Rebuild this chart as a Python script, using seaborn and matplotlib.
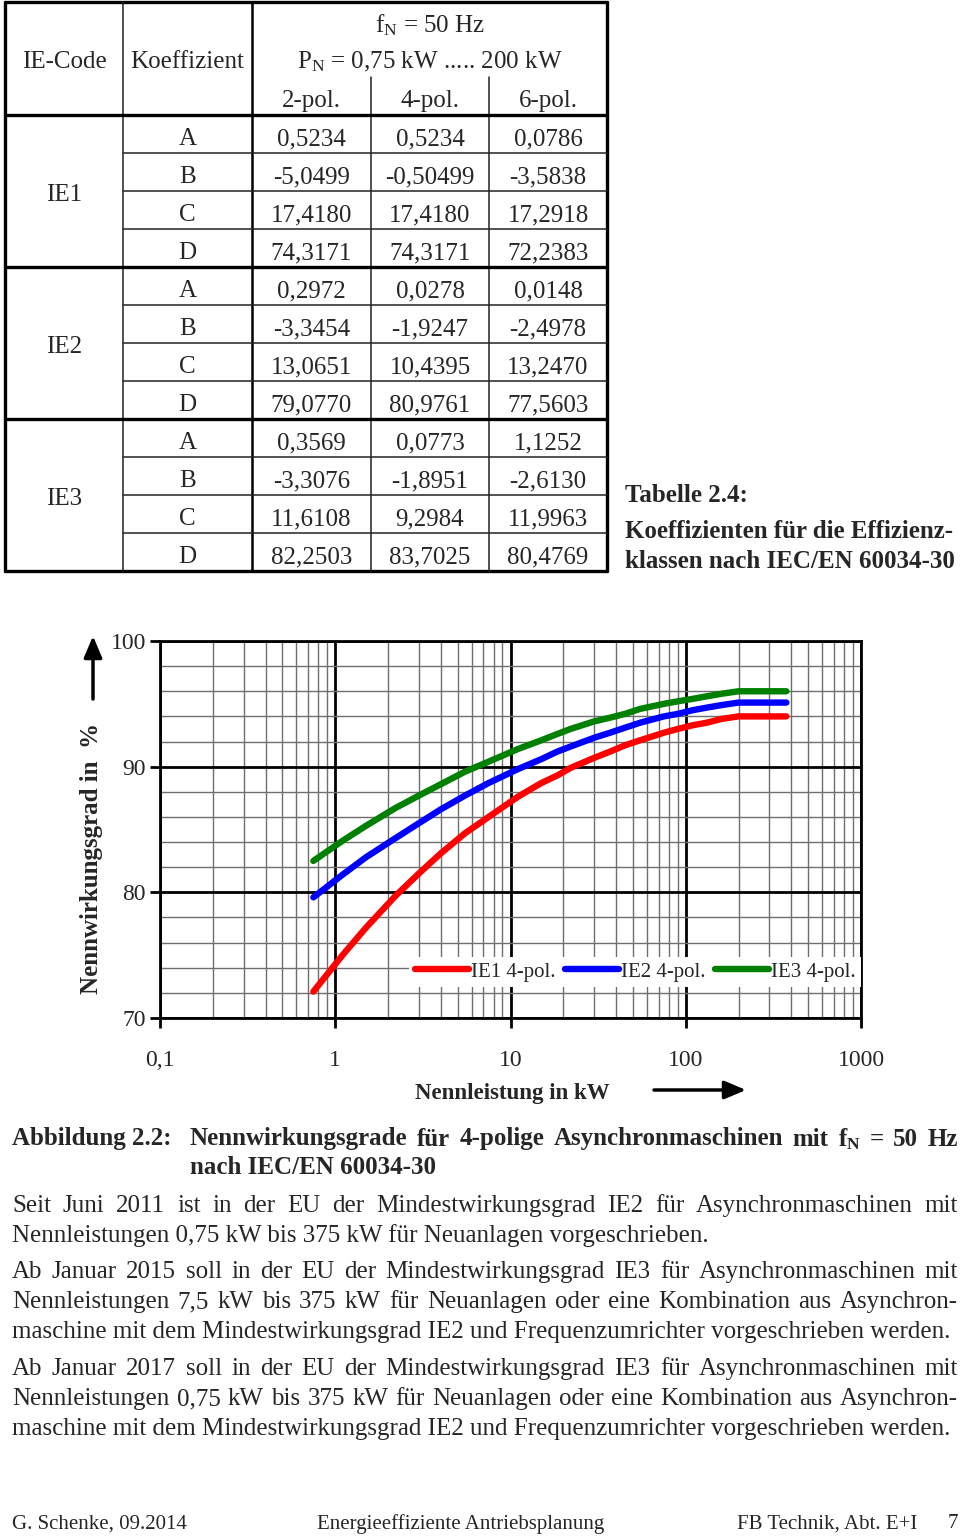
import matplotlib
matplotlib.use("Agg")
import matplotlib.pyplot as plt
import matplotlib.ticker as mticker
import numpy as np
import pandas as pd
import seaborn as sns

# --- data -----------------------------------------------------------------
# table 2.4 (coefficients, as printed)
ie_codes = ["IE1", "IE2", "IE3"]
coef_names = ["A", "B", "C", "D"]
pole_cols = ["2-pol.", "4-pol.", "6-pol."]
ie1_coef = [["0,5234", "0,5234", "0,0786"],
            ["-5,0499", "-0,50499", "-3,5838"],
            ["17,4180", "17,4180", "17,2918"],
            ["74,3171", "74,3171", "72,2383"]]
ie2_coef = [["0,2972", "0,0278", "0,0148"],
            ["-3,3454", "-1,9247", "-2,4978"],
            ["13,0651", "10,4395", "13,2470"],
            ["79,0770", "80,9761", "77,5603"]]
ie3_coef = [["0,3569", "0,0773", "1,1252"],
            ["-3,3076", "-1,8951", "-2,6130"],
            ["11,6108", "9,2984", "11,9963"],
            ["82,2503", "83,7025", "80,4769"]]

# figure 2.2 (efficiency of 4-pole machines)
power_kw = [0.75, 1.1, 1.5, 2.2, 3, 4, 5.5, 7.5, 11, 15, 18.5, 22, 30, 37,
            45, 55, 75, 90, 110, 132, 160, 200, 375]
eta_ie1 = [72.1, 75.0, 77.2, 79.7, 81.5, 83.1, 84.7, 86.0, 87.6, 88.7, 89.3,
           89.9, 90.7, 91.2, 91.7, 92.1, 92.7, 93.0, 93.3, 93.5, 93.8, 94.0, 94.0]
eta_ie2 = [79.6, 81.4, 82.8, 84.3, 85.5, 86.6, 87.7, 88.7, 89.8, 90.6, 91.2,
           91.6, 92.3, 92.7, 93.1, 93.5, 94.0, 94.2, 94.5, 94.7, 94.9, 95.1, 95.1]
eta_ie3 = [82.5, 84.1, 85.3, 86.7, 87.7, 88.6, 89.6, 90.4, 91.4, 92.1, 92.6,
           93.0, 93.6, 93.9, 94.2, 94.6, 95.0, 95.2, 95.4, 95.6, 95.8, 96.0, 96.0]
curve_labels = ["IE1 4-pol.", "IE2 4-pol.", "IE3 4-pol."]
curve_colors = ["#ff0000", "#0000ff", "#008000"]
x_tick_vals = [0.1, 1, 10, 100, 1000]
x_tick_text = ["0,1", "1", "10", "100", "1000"]
y_tick_vals = [70, 80, 90, 100]

body_paragraphs = [
    ["Seit Juni 2011 ist in der EU der Mindestwirkungsgrad IE2 für Asynchronmaschinen mit",
     "Nennleistungen 0,75 kW bis 375 kW für Neuanlagen vorgeschrieben."],
    ["Ab Januar 2015 soll in der EU der Mindestwirkungsgrad IE3 für Asynchronmaschinen mit",
     "Nennleistungen 7,5 kW bis 375 kW für Neuanlagen oder eine Kombination aus Asynchron-",
     "maschine mit dem Mindestwirkungsgrad IE2 und Frequenzumrichter vorgeschrieben werden."],
    ["Ab Januar 2017 soll in der EU der Mindestwirkungsgrad IE3 für Asynchronmaschinen mit",
     "Nennleistungen 0,75 kW bis 375 kW für Neuanlagen oder eine Kombination aus Asynchron-",
     "maschine mit dem Mindestwirkungsgrad IE2 und Frequenzumrichter vorgeschrieben werden."],
]

# --- style ----------------------------------------------------------------
sns.set_style("white")
plt.rcParams["font.family"] = ["Liberation Serif", "DejaVu Serif"]
plt.rcParams["mathtext.fontset"] = "custom"
plt.rcParams["mathtext.rm"] = "Liberation Serif"
plt.rcParams["mathtext.it"] = "Liberation Serif:italic"
plt.rcParams["mathtext.bf"] = "Liberation Serif:bold"

W, H = 960, 1538
fig = plt.figure(figsize=(W / 100, H / 100), dpi=100)
page = fig.add_axes([0, 0, 1, 1])
page.set_xlim(0, W)
page.set_ylim(H, 0)
page.axis("off")
renderer = fig.canvas.get_renderer()


def put_line(text, y, x0, x1=None, size=17, weight="normal"):
    # justified line if x1 is given, else plain left aligned
    if x1 is None:
        page.text(x0, y, text, fontsize=size, fontweight=weight, va="center", ha="left")
        return
    words = text.split(" ")
    items = [page.text(0, y, w, fontsize=size, fontweight=weight, va="center", ha="left")
             for w in words]
    widths = [t.get_window_extent(renderer).width for t in items]
    gap = (x1 - x0 - sum(widths)) / max(len(words) - 1, 1)
    x = x0
    for t, w in zip(items, widths):
        t.set_x(x)
        x += w + gap


# --- table 2.4 ------------------------------------------------------------
col_x = [5, 123, 252, 371, 489, 607]
head_top, head_bot, row_h = 2, 115, 38
n_rows = 12
tbl_bot = head_bot + n_rows * row_h
thick, thin = 2.4, 1.1

page.plot([col_x[0], col_x[-1]], [head_top, head_top], color="black", lw=thick)
page.plot([col_x[0], col_x[-1]], [tbl_bot, tbl_bot], color="black", lw=thick)
page.plot([col_x[0], col_x[0]], [head_top, tbl_bot], color="black", lw=thick)
page.plot([col_x[-1], col_x[-1]], [head_top, tbl_bot], color="black", lw=thick)
page.plot([col_x[1], col_x[1]], [head_top, tbl_bot], color="#222222", lw=thin)
page.plot([col_x[2], col_x[2]], [head_top, tbl_bot], color="black", lw=1.8)
for cx in col_x[3:5]:
    page.plot([cx, cx], [77, tbl_bot], color="#222222", lw=thin)
for g in range(3):
    yg = head_bot + g * 4 * row_h
    page.plot([col_x[0], col_x[-1]], [yg, yg], color="black", lw=thick)
    for k in range(1, 4):
        yk = yg + k * row_h
        page.plot([col_x[1], col_x[-1]], [yk, yk], color="#222222", lw=thin)

tsize = 18
mid = [(col_x[i] + col_x[i + 1]) / 2 for i in range(5)]
page.text(mid[0], 62, "IE-Code", fontsize=tsize, ha="center", va="center")
page.text(mid[1], 62, "Koeffizient", fontsize=tsize, ha="center", va="center")
page.text(mid[3], 25, r"f$_\mathrm{N}$ = 50 Hz", fontsize=tsize, ha="center", va="center")
page.text(mid[3], 62, r"P$_\mathrm{N}$ = 0,75 kW ..... 200 kW", fontsize=tsize,
          ha="center", va="center")
for i, p in enumerate(pole_cols):
    page.text(mid[2 + i], 101, p, fontsize=tsize, ha="center", va="center")

for g, (code, vals) in enumerate(zip(ie_codes, [ie1_coef, ie2_coef, ie3_coef])):
    yg = head_bot + g * 4 * row_h
    page.text(mid[0], yg + 2 * row_h + 4, code, fontsize=tsize, ha="center", va="center")
    for k, name in enumerate(coef_names):
        yc = yg + k * row_h + row_h / 2 + 5
        page.text(mid[1], yc, name, fontsize=tsize, ha="center", va="center")
        for i in range(3):
            page.text(mid[2 + i], yc, vals[k][i], fontsize=tsize, ha="center", va="center")

put_line("Tabelle 2.4:", 495, 625, size=18, weight="bold")
put_line("Koeffizienten für die Effizienz-", 531, 625, size=18, weight="bold")
put_line("klassen nach IEC/EN 60034-30", 561, 625, size=18, weight="bold")

# --- figure 2.2 -----------------------------------------------------------
ax_l, ax_r, ax_t, ax_b = 160, 861, 641, 1018
ax = fig.add_axes([ax_l / W, 1 - ax_b / H, (ax_r - ax_l) / W, (ax_b - ax_t) / H])

df = pd.DataFrame({
    "P": power_kw * 3,
    "eta": eta_ie1 + eta_ie2 + eta_ie3,
    "Klasse": [curve_labels[0]] * len(power_kw) + [curve_labels[1]] * len(power_kw)
              + [curve_labels[2]] * len(power_kw),
})
sns.lineplot(data=df, x="P", y="eta", hue="Klasse", hue_order=curve_labels,
             palette=curve_colors, lw=4.6, legend=False, ax=ax,
             solid_capstyle="round", solid_joinstyle="round")

ax.set_xscale("log")
ax.set_xlim(0.1, 1000)
ax.set_ylim(70, 100)
ax.xaxis.set_major_locator(mticker.FixedLocator(x_tick_vals))
ax.xaxis.set_major_formatter(mticker.FixedFormatter(x_tick_text))
ax.xaxis.set_minor_locator(mticker.LogLocator(base=10, subs=np.arange(2, 10)))
ax.xaxis.set_minor_formatter(mticker.NullFormatter())
ax.yaxis.set_major_locator(mticker.FixedLocator(y_tick_vals))
ax.yaxis.set_minor_locator(mticker.MultipleLocator(2))
ax.set_axisbelow(True)
ax.grid(which="minor", color="#6e6e6e", lw=1.0)
ax.grid(which="major", color="black", lw=2.0)
for s in ax.spines.values():
    s.set_color("black")
    s.set_linewidth(2.0)
ax.tick_params(which="major", length=7, width=2, direction="out", labelsize=17,
               color="black", left=True, bottom=True)
ax.tick_params(axis="x", which="major", pad=16)
ax.tick_params(axis="y", which="major", pad=3)
ax.tick_params(which="minor", length=0)

ax.set_xlabel("Nennleistung in kW", fontsize=16.5, fontweight="bold", va="center")
ax.xaxis.set_label_coords((512 - ax_l) / (ax_r - ax_l), -(1094 - ax_b) / (ax_b - ax_t))
ax.set_ylabel("Nennwirkungsgrad in  %", fontsize=18, fontweight="bold", va="center")
ax.yaxis.set_label_coords((92 - ax_l) / (ax_r - ax_l), (ax_b - 858) / (ax_b - ax_t))

leg = ax.legend(handles=ax.lines[:3], labels=curve_labels, ncol=3,
                loc="lower right", bbox_to_anchor=(1.0, 0.083), borderaxespad=0,
                fontsize=15, handlelength=2.6, handletextpad=0.1,
                columnspacing=0.45, borderpad=0.25, fancybox=False,
                framealpha=1, facecolor="white", edgecolor="none")

# direction arrows beside the axis labels
page.annotate("", xy=(93, 636), xytext=(93, 699),
              arrowprops=dict(arrowstyle="-|>,head_length=1.3,head_width=0.55",
                              lw=2.5, color="black", shrinkA=0, shrinkB=0))
page.annotate("", xy=(746, 1090), xytext=(654, 1090),
              arrowprops=dict(arrowstyle="-|>,head_length=1.3,head_width=0.55",
                              lw=2.5, color="black", shrinkA=0, shrinkB=0))

# --- captions and body text -----------------------------------------------
put_line("Abbildung 2.2:", 1139, 12, size=18, weight="bold")
put_line(r"Nennwirkungsgrade für 4-polige Asynchronmaschinen mit f$_\mathbf{N}$ = 50 Hz",
         1139, 190, 958, size=18, weight="bold")
put_line("nach IEC/EN 60034-30", 1168, 190, size=18, weight="bold")

y_start = [1206, 1272, 1369]
for para, y0 in zip(body_paragraphs, y_start):
    for j, line in enumerate(para):
        last = j == len(para) - 1
        put_line(line, y0 + 30 * j, 12, None if last else 958, size=18)

page.text(12, 1524, "G. Schenke, 09.2014", fontsize=15, va="center", ha="left")
page.text(461, 1524, "Energieeffiziente Antriebsplanung", fontsize=15, va="center", ha="center")
page.text(737, 1524, "FB Technik, Abt. E+I", fontsize=15, va="center", ha="left")
page.text(958, 1524, "7", fontsize=15, va="center", ha="right")

fig.savefig("out.png", dpi=100)
